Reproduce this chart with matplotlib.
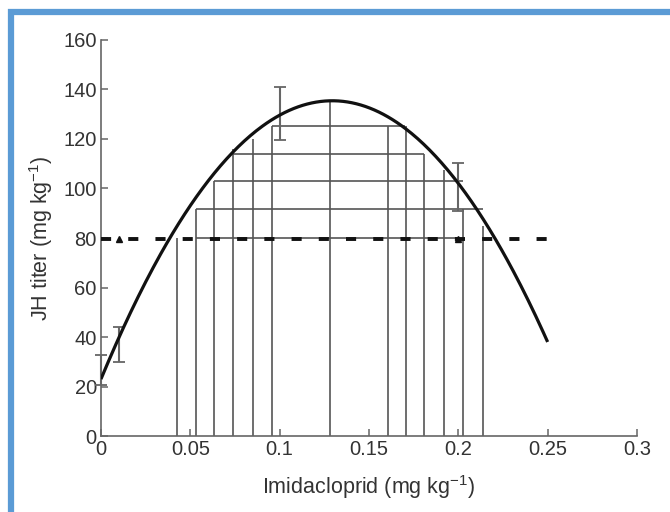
import numpy as np
import matplotlib.pyplot as plt
from matplotlib.patches import Rectangle

plt.rcParams['font.family'] = ['Liberation Sans', 'DejaVu Sans']

# quadratic fit of JH titer on dose (a*x^2 + b*x + c)
fit_coef = [-6708, 1737, 23]
x_max_fit = 0.25

# measured means with error bars
dose = [0.0, 0.01, 0.1, 0.2]
titer = [26.6, 37.0, 130.4, 100.6]
err = [6.0, 7.2, 10.7, 9.7]

# threshold line
thr = 79.5
marker_x = [0.01, 0.2]

# horizontal segments: level, x start, x end
h_level = [80, 91.7, 103, 114, 125.3]
h_x0 = [0.053, 0.053, 0.063, 0.074, 0.096]
h_x1 = [0.2, 0.2136, 0.2024, 0.181, 0.170]

# vertical segments: position, top
v_x = [0.0424, 0.053, 0.063, 0.074, 0.085, 0.096, 0.128,
       0.1605, 0.171, 0.181, 0.192, 0.2024, 0.2136]
v_top = [80, 91.7, 103, 116, 120, 125.3, 135.5,
         125.3, 125.3, 114, 107.4, 91.7, 85]

xticks = [0, 0.05, 0.1, 0.15, 0.2, 0.25, 0.3]
xtick_labels = ['0', '0.05', '0.1', '0.15', '0.2', '0.25', '0.3']
yticks = np.arange(0, 161, 20)

fig = plt.figure(figsize=(6.7, 5.12), dpi=100)
ax = fig.add_axes([0.1507, 0.1484, 0.80, 0.7735])

# blue frame of the screenshot
fig.patches.append(Rectangle((11 / 670, -0.1), 1.2, (512 - 12) / 512 + 0.1,
                             transform=fig.transFigure, fill=False,
                             edgecolor='#5b9bd5', linewidth=4.5, zorder=0))

line_c = '#555555'
ax.vlines(v_x, 0, v_top, color=line_c, lw=1.2, zorder=1)
ax.hlines(h_level, h_x0, h_x1, color=line_c, lw=1.2, zorder=1)

eb = ax.errorbar(dose, titer, yerr=err, fmt='none', ecolor='#666666',
                 elinewidth=1.5, capsize=4.5, capthick=1.3, zorder=2)
for art in eb.lines[1] + eb.lines[2]:
    art.set_clip_on(False)

xs = np.linspace(0, x_max_fit, 300)
ax.plot(xs, np.polyval(fit_coef, xs), color='#111111', lw=2.3,
        solid_capstyle='butt', zorder=3)

ax.plot([0, x_max_fit], [thr, thr], color='#111111', lw=2.8,
        dashes=(2.6, 4.4), zorder=3)
ax.plot(marker_x, [thr, thr], linestyle='none', marker='^', ms=5,
        color='#111111', zorder=3)

ax.set_xlim(0, 0.3)
ax.set_ylim(0, 160)
ax.set_xticks(xticks)
ax.set_xticklabels(xtick_labels)
ax.set_yticks(yticks)

for s in ['top', 'right']:
    ax.spines[s].set_visible(False)
for s in ['left', 'bottom']:
    ax.spines[s].set_color('#666666')
    ax.spines[s].set_linewidth(1.2)
ax.tick_params(direction='in', length=5, width=1.1, color='#666666',
               labelsize=14.5, labelcolor='#333333', pad=3)

ax.set_xlabel('Imidacloprid (mg kg$^{\\mathregular{-1}}$)', fontsize=15.5,
              color='#333333', labelpad=10)
ax.set_ylabel('JH titer (mg kg$^{\\mathregular{-1}}$)', fontsize=15.5,
              color='#333333', labelpad=6)

fig.savefig('out.png', dpi=100)
